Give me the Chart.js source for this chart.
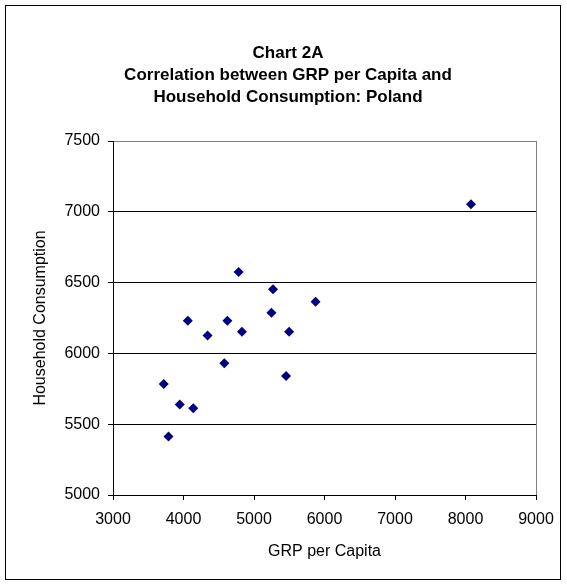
<!DOCTYPE html>
<html><head><meta charset="utf-8">
<script src="https://cdn.jsdelivr.net/npm/chart.js@4"></script>
<style>html,body{margin:0;padding:0;background:#fff;}#wrap{position:relative;width:567px;height:586px;}</style>
</head><body><div id="wrap"><canvas id="c" width="567" height="586"></canvas></div>
<script>
const grpPerCapita = [3720, 3787, 3947, 4138, 4061, 4341, 4579, 4622, 4782, 4829, 5247, 5270, 5455, 5498, 5873, 8078];
const householdConsumption = [5784, 5413, 5639, 5613, 6230, 6127, 5930, 6230, 6575, 6153, 6287, 6453, 5840, 6153, 6364, 7054];
const titleLines = ['Chart 2A', 'Correlation between GRP per Capita and', 'Household Consumption: Poland'];
const xAxisTitle = 'GRP per Capita';
const yAxisTitle = 'Household Consumption';
const xMin = 3000, xMax = 9000, xStep = 1000;
const yMin = 5000, yMax = 7500, yStep = 500;

const points = grpPerCapita.map((x, i) => ({ x: x, y: householdConsumption[i] }));
const FONT = 'Liberation Sans, Arial, sans-serif';

const framePlugin = {
  id: 'frame',
  afterDraw(chart) {
    const ctx = chart.ctx;
    ctx.save();
    ctx.strokeStyle = '#000';
    ctx.lineWidth = 1;
    ctx.strokeRect(5.5, 5.5, 555, 574);
    ctx.restore();
  }
};

new Chart(document.getElementById('c'), {
  type: 'scatter',
  data: {
    datasets: [{
      data: points,
      pointStyle: 'rectRot',
      pointRadius: 5,
      pointHoverRadius: 5,
      backgroundColor: '#000080',
      borderColor: '#000080',
      borderWidth: 0
    }]
  },
  plugins: [framePlugin],
  options: {
    responsive: false,
    animation: false,
    devicePixelRatio: 1,
    layout: { padding: { left: 9, right: 0, top: 0, bottom: 8 } },
    plugins: {
      legend: { display: false },
      tooltip: { enabled: false },
      title: {
        display: true,
        text: titleLines,
        color: '#000',
        font: { family: FONT, size: 17, weight: 'bold', lineHeight: 22 / 17 },
        padding: { top: 42, bottom: 33 }
      }
    },
    scales: {
      x: {
        type: 'linear',
        min: xMin, max: xMax,
        afterFit: s => { s.height = 83; },
        ticks: {
          stepSize: xStep, color: '#000', padding: 10, maxRotation: 0,
          font: { family: FONT, size: 16 },
          callback: v => String(v)
        },
        grid: {
          color: c => (c.tick && c.tick.value === xMax) ? '#808080' : 'rgba(0,0,0,0)',
          tickColor: '#000', tickLength: 5, lineWidth: 1
        },
        border: { color: '#000', width: 1 },
        title: {
          display: true, text: xAxisTitle, color: '#000',
          font: { family: FONT, size: 16 },
          padding: { top: 0, bottom: 17 }
        }
      },
      y: {
        type: 'linear',
        min: yMin, max: yMax,
        afterFit: s => { s.width = 104; },
        ticks: {
          stepSize: yStep, color: '#000', padding: 8,
          font: { family: FONT, size: 16 },
          callback: v => String(v)
        },
        grid: {
          color: c => (c.tick && c.tick.value === yMax) ? '#808080' : '#000',
          tickColor: '#000', tickLength: 5, lineWidth: 1
        },
        border: { color: '#000', width: 1 },
        title: {
          display: true, text: yAxisTitle, color: '#000',
          font: { family: FONT, size: 16 },
          padding: { top: 22, bottom: 0 }
        }
      },
      yRightSpace: {
        type: 'linear', position: 'right', axis: 'y',
        min: 0, max: 1,
        afterFit: s => { s.width = 31; },
        ticks: { display: false },
        grid: { display: false, drawTicks: false },
        border: { display: false }
      }
    }
  }
});
</script></body></html>
